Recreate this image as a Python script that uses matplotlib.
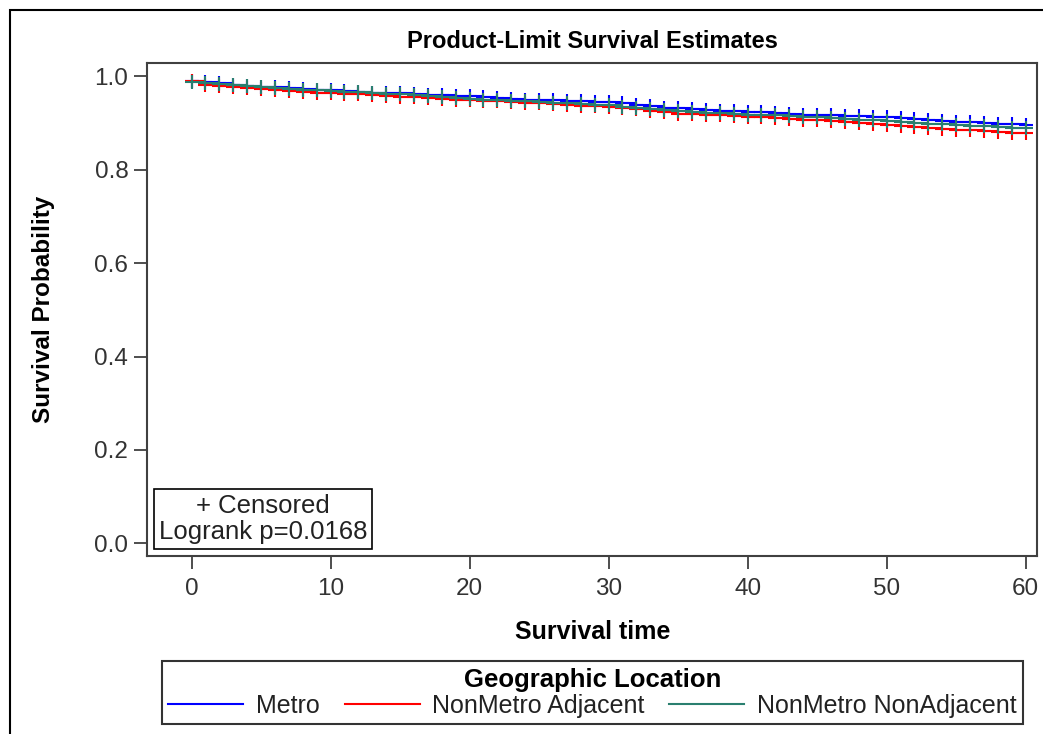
import matplotlib.pyplot as plt
import matplotlib.patches as patches
import numpy as np

plt.rcParams['font.family'] = ['Liberation Sans', 'DejaVu Sans']

# Survival time in months
months = list(range(61))

# Product-limit estimates, one value per month
metro = [0.990, 0.987, 0.985, 0.982, 0.980, 0.977, 0.976, 0.974, 0.972, 0.971,
         0.970, 0.968, 0.966, 0.965, 0.964, 0.963, 0.962, 0.960, 0.959, 0.958,
         0.957, 0.955, 0.953, 0.951, 0.950, 0.949, 0.948, 0.947, 0.946, 0.945,
         0.945, 0.942, 0.939, 0.936, 0.933, 0.931, 0.930, 0.928, 0.926, 0.925,
         0.924, 0.923, 0.921, 0.920, 0.918, 0.917, 0.916, 0.915, 0.914, 0.913,
         0.912, 0.910, 0.908, 0.906, 0.904, 0.902, 0.901, 0.900, 0.898, 0.897,
         0.895]
nonmetro_adj = [0.990, 0.981, 0.979, 0.977, 0.975, 0.972, 0.970, 0.969, 0.967, 0.965,
                0.964, 0.962, 0.961, 0.959, 0.957, 0.956, 0.955, 0.953, 0.952, 0.950,
                0.949, 0.947, 0.946, 0.945, 0.943, 0.942, 0.940, 0.939, 0.937, 0.936,
                0.935, 0.932, 0.929, 0.926, 0.923, 0.920, 0.919, 0.917, 0.916, 0.914,
                0.913, 0.912, 0.910, 0.909, 0.907, 0.906, 0.904, 0.902, 0.900, 0.897,
                0.895, 0.893, 0.891, 0.889, 0.887, 0.885, 0.884, 0.882, 0.881, 0.879,
                0.878]
nonmetro_nonadj = [0.988, 0.986, 0.984, 0.981, 0.979, 0.977, 0.975, 0.973, 0.971, 0.970,
                   0.969, 0.967, 0.966, 0.964, 0.962, 0.961, 0.959, 0.957, 0.955, 0.954,
                   0.952, 0.950, 0.949, 0.947, 0.946, 0.944, 0.943, 0.942, 0.940, 0.939,
                   0.938, 0.935, 0.933, 0.930, 0.927, 0.925, 0.924, 0.922, 0.921, 0.919,
                   0.918, 0.917, 0.916, 0.914, 0.913, 0.912, 0.910, 0.909, 0.907, 0.906,
                   0.904, 0.902, 0.900, 0.898, 0.897, 0.895, 0.894, 0.893, 0.891, 0.890,
                   0.889]

groups = ["Metro", "NonMetro Adjacent", "NonMetro NonAdjacent"]
series = [metro, nonmetro_adj, nonmetro_nonadj]
colors = ["#0000FF", "#FF0000", "#2A7F6F"]

fig = plt.figure(figsize=(10.43, 7.34), dpi=100)
ax = fig.add_axes([0.141, 0.2425, 0.853, 0.6715])

for name, vals, col in zip(groups, series, colors):
    ax.step(months, vals, where='post', color=col, lw=1.5, label=name)
    ax.plot(months, vals, ls='none', marker='+', ms=10, mew=1.5, color=col)

ax.set_xlim(-3.2, 60.8)
ax.set_ylim(-0.027, 1.028)
ax.set_xticks([0, 10, 20, 30, 40, 50, 60])
ax.set_yticks([0.0, 0.2, 0.4, 0.6, 0.8, 1.0])
ax.set_yticklabels(["0.0", "0.2", "0.4", "0.6", "0.8", "1.0"])
ax.tick_params(direction='out', length=9.5, width=1.3, colors='#404040',
               labelcolor='#333333', labelsize=17.5)
ax.tick_params(axis='x', pad=6)
ax.tick_params(axis='y', pad=4)
for sp in ax.spines.values():
    sp.set_color('#404040')
    sp.set_linewidth(1.5)

ax.text(0.013, 0.024, "+ Censored\nLogrank p=0.0168", transform=ax.transAxes,
        ha='left', va='bottom', multialignment='center', fontsize=18.5, color='#222222',
        linespacing=1.12,
        bbox=dict(boxstyle='square,pad=0.18', fc='white', ec='black', lw=1.2))

fig.text(0.568, 0.944, "Product-Limit Survival Estimates", ha='center', va='center',
         fontsize=17, fontweight='bold')
fig.text(0.568, 0.139, "Survival time", ha='center', va='center',
         fontsize=18, fontweight='bold')
fig.text(0.042, 0.578, "Survival Probability", ha='center', va='center',
         rotation=90, fontsize=17.5, fontweight='bold')

leg = fig.legend(loc='center', bbox_to_anchor=(0.568, 0.056), ncol=3,
                 title="Geographic Location", fontsize=18, frameon=True,
                 fancybox=False, edgecolor='black', handlelength=3.0,
                 columnspacing=1.0, handletextpad=0.5, borderpad=0.25,
                 labelspacing=0.1, borderaxespad=0)
leg.get_title().set_fontweight('bold')
leg.get_title().set_fontsize(18.5)
leg.get_frame().set_linewidth(1.5)
for t in leg.get_texts():
    t.set_color('#222222')

# outer graph border (cropped on the right and bottom)
fig.patches.append(patches.Rectangle((0.0096, -0.1), 1.5, 1.0864, transform=fig.transFigure,
                                     fill=False, ec='black', lw=1.5, clip_on=False))

fig.savefig("out.png", dpi=100)
